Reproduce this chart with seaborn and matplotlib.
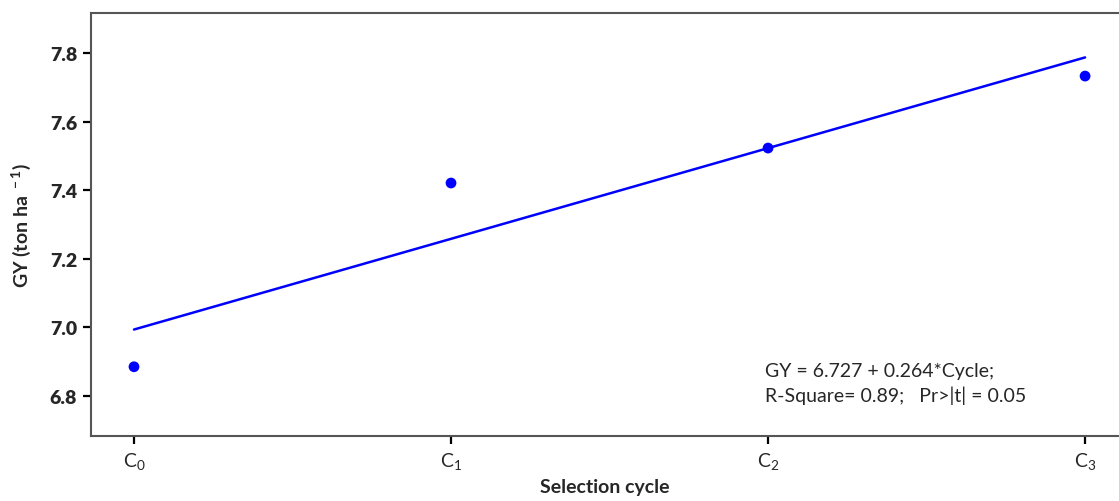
import matplotlib
matplotlib.use("Agg")
import matplotlib.pyplot as plt
import seaborn as sns
import pandas as pd

cycles = [0, 1, 2, 3]
cycle_labels = ["C$_0$", "C$_1$", "C$_2$", "C$_3$"]
gy = [6.885, 7.421, 7.523, 7.733]
y_ticks = [6.8, 7.0, 7.2, 7.4, 7.6, 7.8]

sns.set_style("white")
plt.rcParams['font.family'] = ['Lato', 'DejaVu Sans']
plt.rcParams['mathtext.default'] = 'regular'

df = pd.DataFrame({"cycle": cycles, "GY": gy})

fig = plt.figure(figsize=(11.19, 5.02), dpi=100)
ax = fig.add_axes([91/1119, 65/502, 1028/1119, (437-14)/502])

sns.regplot(data=df, x="cycle", y="GY", ci=None, ax=ax,
            color="#0000ff",
            scatter_kws=dict(s=60, edgecolor="none", alpha=1),
            line_kws=dict(linewidth=1.8, color="#0000ff"))

ax.set_xlim(-0.1356, 3.107)
ax.set_ylim(6.683, 7.917)
ax.set_xticks(cycles)
ax.set_xticklabels(cycle_labels, fontsize=14)
ax.set_yticks(y_ticks)
ax.set_yticklabels([f"{v:.1f}" for v in y_ticks], fontsize=14, fontweight="heavy")
ax.tick_params(axis="both", direction="out", length=6, width=1.6, color="black",
               bottom=True, left=True, pad=4)

for side in ["left", "bottom", "top"]:
    ax.spines[side].set_visible(True)
    ax.spines[side].set_color("#555555")
    ax.spines[side].set_linewidth(1.5)
ax.spines["right"].set_visible(False)

ax.set_xlabel("Selection cycle", fontsize=14, fontweight="bold", labelpad=5)
ax.set_ylabel("GY (ton ha$^{\\ -1}$)", fontsize=14, fontweight="bold", labelpad=12)

ax.text(1.99, 6.838, "GY = 6.727 + 0.264*Cycle;\nR-Square= 0.89;   Pr>|t| = 0.05",
        fontsize=14, va="center", ha="left", linespacing=1.4)

fig.savefig("out.png", dpi=100)
